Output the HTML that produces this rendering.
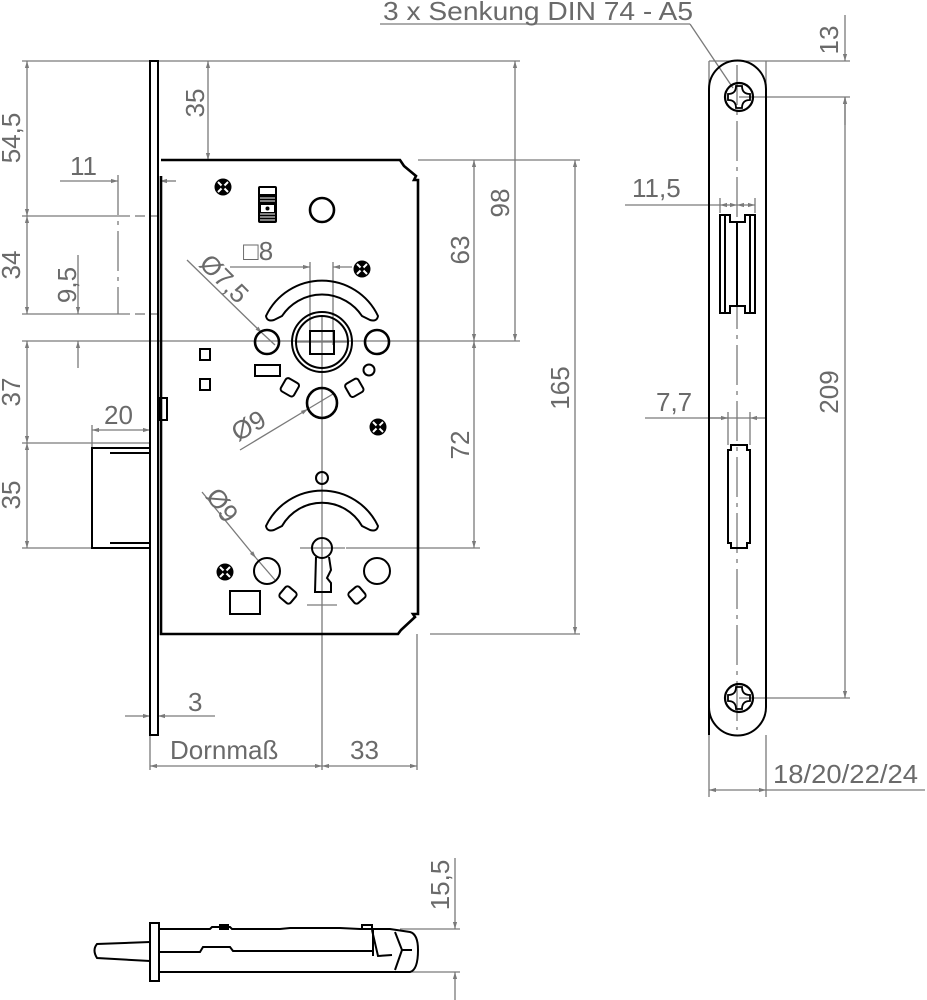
<!DOCTYPE html>
<html><head><meta charset="utf-8"><style>
html,body{margin:0;padding:0;background:#fff}
svg{display:block}
text{font-family:"Liberation Sans",sans-serif;fill:#6a6a6a;font-size:26px}
.d{stroke:#7a7a7a;stroke-width:1.3;fill:none}
.k{stroke:#000;stroke-width:2.6;fill:none}
.t{stroke:#000;stroke-width:2;fill:none}
</style></head><body>
<svg width="927" height="1000" viewBox="0 0 927 1000" xmlns="http://www.w3.org/2000/svg">
<defs>
<marker id="a" viewBox="0 0 10 10" refX="10" refY="5" markerWidth="9" markerHeight="7" orient="auto-start-reverse" markerUnits="userSpaceOnUse"><path d="M0,2 L10,5 L0,8 z" fill="#7a7a7a"/></marker>
<g id="scr"><circle r="8.5" fill="#000"/><path d="M-5,-5 L5,5 M5,-5 L-5,5" stroke="#fff" stroke-width="2"/><circle r="2.2" fill="#000"/></g>
<g id="ph"><circle r="14" fill="none" stroke="#000" stroke-width="2.2"/><path d="M-3,-11 Q-3,-3 -11,-3 L-11,3 Q-3,3 -3,11 L3,11 Q3,3 11,3 L11,-3 Q3,-3 3,-11 Z" fill="none" stroke="#000" stroke-width="1.8"/></g>
</defs>

<g class="d">
<line x1="22" y1="61" x2="520" y2="61"/>
<line x1="22" y1="216" x2="130" y2="216"/><line x1="135" y1="216" x2="145" y2="216"/><line x1="150" y1="216" x2="158" y2="216"/>
<line x1="22" y1="314" x2="130" y2="314"/><line x1="135" y1="314" x2="145" y2="314"/><line x1="150" y1="314" x2="158" y2="314"/>
<line x1="22" y1="341" x2="520" y2="341"/>
<line x1="22" y1="443" x2="150" y2="443"/>
<line x1="22" y1="548" x2="92" y2="548"/>
<line x1="27" y1="61" x2="27" y2="216" marker-start="url(#a)" marker-end="url(#a)"/>
<line x1="27" y1="216" x2="27" y2="314" marker-start="url(#a)" marker-end="url(#a)"/>
<line x1="27" y1="341" x2="27" y2="443" marker-start="url(#a)" marker-end="url(#a)"/>
<line x1="27" y1="443" x2="27" y2="548" marker-start="url(#a)" marker-end="url(#a)"/>
<line x1="60" y1="181" x2="118" y2="181" marker-end="url(#a)"/>
<line x1="176" y1="181" x2="160" y2="181" marker-end="url(#a)"/>
<line x1="118" y1="175" x2="118" y2="314" stroke-dasharray="40,6,4,6"/>
<line x1="78" y1="255" x2="78" y2="314" marker-end="url(#a)"/>
<line x1="78" y1="368" x2="78" y2="341" marker-end="url(#a)"/>
<line x1="92" y1="425" x2="92" y2="448"/>
<line x1="92" y1="430" x2="150" y2="430" marker-start="url(#a)" marker-end="url(#a)"/>
<line x1="208" y1="61" x2="208" y2="160" marker-start="url(#a)" marker-end="url(#a)"/>
<line x1="418" y1="160" x2="580" y2="160"/>
<line x1="474" y1="160" x2="474" y2="341" marker-start="url(#a)" marker-end="url(#a)"/>
<line x1="474" y1="341" x2="474" y2="548" marker-start="url(#a)" marker-end="url(#a)"/>
<line x1="515" y1="61" x2="515" y2="341" marker-start="url(#a)" marker-end="url(#a)"/>
<line x1="575" y1="160" x2="575" y2="634" marker-start="url(#a)" marker-end="url(#a)"/>
<line x1="346" y1="548" x2="480" y2="548"/>
<line x1="430" y1="634" x2="580" y2="634"/>
<line x1="230" y1="267" x2="310" y2="267" marker-end="url(#a)"/>
<line x1="352" y1="267" x2="333" y2="267" marker-end="url(#a)"/>
<line x1="310" y1="262" x2="310" y2="345"/><line x1="333" y1="262" x2="333" y2="345"/>
<line x1="187" y1="260" x2="262" y2="333" marker-end="url(#a)"/>
<line x1="262" y1="333" x2="275" y2="345"/>
<line x1="240" y1="450" x2="308" y2="409" marker-end="url(#a)"/>
<line x1="308" y1="409" x2="333" y2="394"/>
<line x1="202" y1="492" x2="256" y2="558" marker-end="url(#a)"/>
<line x1="256" y1="558" x2="275" y2="580"/>
<line x1="322" y1="315" x2="322" y2="770"/>
<line x1="417" y1="634" x2="417" y2="770"/>
<line x1="150" y1="735" x2="150" y2="770"/>
<line x1="125" y1="716" x2="150" y2="716" marker-end="url(#a)"/>
<line x1="215" y1="716" x2="158" y2="716" marker-end="url(#a)"/>
<line x1="150" y1="766" x2="322" y2="766" marker-start="url(#a)" marker-end="url(#a)"/>
<line x1="322" y1="766" x2="417" y2="766" marker-start="url(#a)" marker-end="url(#a)"/>
<line x1="297" y1="342" x2="347" y2="342"/>
<line x1="300" y1="548" x2="345" y2="548"/>
<line x1="307" y1="605" x2="337" y2="605"/>
</g>

<text transform="translate(20,138) rotate(-90)" text-anchor="middle">54,5</text>
<text transform="translate(20,265) rotate(-90)" text-anchor="middle">34</text>
<text transform="translate(20,392) rotate(-90)" text-anchor="middle">37</text>
<text transform="translate(20,495) rotate(-90)" text-anchor="middle">35</text>
<text x="70" y="175">11</text>
<text transform="translate(76,285) rotate(-90)" text-anchor="middle">9,5</text>
<text x="104" y="424">20</text>
<text transform="translate(204,103) rotate(-90)" text-anchor="middle">35</text>
<text transform="translate(469,250) rotate(-90)" text-anchor="middle">63</text>
<text transform="translate(509,203) rotate(-90)" text-anchor="middle">98</text>
<text transform="translate(569,388) rotate(-90)" text-anchor="middle">165</text>
<text transform="translate(469,445) rotate(-90)" text-anchor="middle">72</text>
<text x="243" y="260">□8</text>
<text transform="translate(198,265) rotate(45)">Ø7,5</text>
<text transform="translate(238,442) rotate(-30)">Ø9</text>
<text transform="translate(205,496) rotate(55)">Ø9</text>
<text x="188" y="711">3</text>
<text x="170" y="759">Dornmaß</text>
<text x="350" y="759">33</text>

<rect x="150" y="61" width="8" height="674" class="t"/>
<path class="k" d="M161,176 L161,634 L398,634 L401,630 L415,617 L413,614 L418,614 L418,180 L414,180 L416,176 L404,166 L400,160 L161,160"/>
<rect x="160" y="398" width="7" height="22" class="t"/>
<path class="t" d="M150,448 L92,448 L92,548 L150,548"/>
<line class="t" x1="110" y1="453" x2="150" y2="453"/>
<line class="t" x1="110" y1="543" x2="150" y2="543"/>

<use href="#scr" x="223" y="187"/>
<use href="#scr" x="362" y="269"/>
<use href="#scr" x="378" y="427"/>
<use href="#scr" x="225" y="572"/>
<rect x="258" y="186" width="19" height="37" rx="2" fill="#000"/>
<rect x="260" y="188" width="15" height="6" fill="#fff"/>
<g stroke="#fff" stroke-width="1"><line x1="260" y1="198" x2="275" y2="198"/><line x1="260" y1="201" x2="275" y2="201"/><line x1="260" y1="214" x2="275" y2="214"/><line x1="260" y1="217" x2="275" y2="217"/><line x1="260" y1="220" x2="275" y2="220"/></g>
<rect x="261" y="205" width="13" height="7" fill="#fff"/><circle cx="267.5" cy="208.5" r="2" fill="#000"/>
<circle cx="322" cy="210" r="12" class="k" stroke-width="3"/>

<path class="t" d="M266,316 A62,62 0 0 1 378,316 Q377,322 370,320 L362,316 A48,48 0 0 0 282,316 L274,320 Q267,322 266,316 Z"/>
<circle cx="322" cy="342" r="30" class="t"/>
<circle cx="322" cy="342" r="26" class="t" stroke-width="1.5"/>
<rect x="310" y="331" width="24" height="23" class="t"/>
<circle cx="267" cy="342" r="12" class="k" stroke-width="3"/>
<circle cx="377" cy="342" r="12" class="k" stroke-width="3"/>
<rect x="255" y="365" width="25" height="11" class="t"/>
<circle cx="369" cy="370" r="5.5" class="t"/>
<rect x="282" y="380" width="15" height="15" rx="3" transform="rotate(30 290 388)" class="t"/>
<rect x="347" y="380" width="15" height="15" rx="3" transform="rotate(-30 355 388)" class="t"/>
<circle cx="322" cy="403" r="15" class="k" stroke-width="4"/>
<rect x="200" y="349" width="10" height="11" class="t"/>
<rect x="200" y="379" width="10" height="11" class="t"/>

<circle cx="322" cy="478" r="6" class="t"/>
<path class="t" d="M266,526 A62,62 0 0 1 378,526 Q377,532 370,530 L362,526 A46,46 0 0 0 282,526 L274,530 Q267,532 266,526 Z"/>
<circle cx="322" cy="548" r="10" class="t"/>
<path class="t" d="M316,557 L315,592 L331,592 L331,583 L327,578 L331,570 L329,557"/>
<circle cx="267" cy="571" r="13" class="t"/>
<circle cx="377" cy="571" r="13" class="t"/>
<rect x="230" y="591" width="30" height="23" class="t"/>
<rect x="281" y="588" width="14" height="14" rx="3" transform="rotate(40 288 595)" class="t"/>
<rect x="350" y="588" width="14" height="14" rx="3" transform="rotate(-40 357 595)" class="t"/>

<g class="d">
<line x1="380" y1="24" x2="690" y2="24"/>
<line x1="690" y1="24" x2="733" y2="88"/>
<line x1="709" y1="61" x2="709" y2="95"/><line x1="766" y1="61" x2="766" y2="95"/>
<line x1="709" y1="61" x2="850" y2="61"/>
<line x1="739" y1="97" x2="850" y2="97"/>
<line x1="739" y1="698" x2="850" y2="698"/>
<line x1="845" y1="15" x2="845" y2="61" marker-end="url(#a)"/>
<line x1="845" y1="125" x2="845" y2="97" marker-end="url(#a)"/>
<line x1="845" y1="97" x2="845" y2="698" marker-start="url(#a)" marker-end="url(#a)"/>
<line x1="737" y1="65" x2="737" y2="730" stroke-dasharray="40,6,4,6"/>
<line x1="625" y1="205" x2="720" y2="205"/>
<line x1="720" y1="198" x2="720" y2="213"/><line x1="755" y1="198" x2="755" y2="213"/>
<line x1="720" y1="205" x2="737" y2="205" marker-start="url(#a)" marker-end="url(#a)"/>
<line x1="737" y1="205" x2="755" y2="205" marker-start="url(#a)" marker-end="url(#a)"/>
<line x1="645" y1="418" x2="750" y2="418"/>
<line x1="728" y1="412" x2="728" y2="445"/><line x1="750" y1="412" x2="750" y2="445"/>
<line x1="709" y1="418" x2="728" y2="418" marker-end="url(#a)"/>
<line x1="766" y1="418" x2="750" y2="418" marker-end="url(#a)"/>
<line x1="709" y1="735" x2="709" y2="797"/><line x1="766" y1="735" x2="766" y2="797"/>
<line x1="709" y1="790" x2="766" y2="790" marker-start="url(#a)" marker-end="url(#a)"/>
<line x1="766" y1="790" x2="925" y2="790"/>
</g>
<text x="383" y="20" textLength="310" lengthAdjust="spacingAndGlyphs">3 x Senkung DIN 74 - A5</text>
<text transform="translate(838,40) rotate(-90)" text-anchor="middle">13</text>
<text transform="translate(838,392) rotate(-90)" text-anchor="middle">209</text>
<text x="632" y="197">11,5</text>
<text x="656" y="411">7,7</text>
<text x="773" y="783" textLength="145" lengthAdjust="spacingAndGlyphs">18/20/22/24</text>

<path class="t" d="M709,735 L709,89 A28.5,28.5 0 0 1 766,89 L766,707 A28.5,28.5 0 0 1 709,707 Z"/>
<use href="#ph" x="739" y="97"/>
<use href="#ph" x="739" y="698"/>
<path class="t" d="M720,215 L720,313 L730,313 L730,306 L745,306 L745,313 L755,313 L755,215 L745,215 L745,222 L730,222 L730,215 Z"/>
<line class="t" x1="725" y1="215" x2="725" y2="313" stroke-width="1.4"/>
<line class="t" x1="750" y1="215" x2="750" y2="313" stroke-width="1.4"/>
<line class="t" x1="737" y1="222" x2="737" y2="306" stroke-width="1.4"/>
<path class="t" d="M731,445 L747,445 L747,450 L750,450 L750,543 L747,543 L747,548 L731,548 L731,543 L728,543 L728,450 L731,450 Z"/>

<g class="d">
<line x1="400" y1="929" x2="460" y2="929"/>
<line x1="400" y1="972" x2="460" y2="972"/>
<line x1="455" y1="858" x2="455" y2="929" marker-end="url(#a)"/>
<line x1="455" y1="1000" x2="455" y2="972" marker-end="url(#a)"/>
</g>
<text transform="translate(449,885) rotate(-90)" text-anchor="middle">15,5</text>
<path class="t" d="M150,942 L97,944 Q92,950 97,958 L150,961"/>
<rect x="150" y="923" width="9" height="58" class="t"/>
<path class="t" d="M159,929 L210,929 L212,927 L230,927 L232,929 L280,929 L290,928 L340,928 L360,929 L390,929 L410,932 Q418,934 418,950 Q418,970 410,972 L159,972"/>
<path class="t" d="M159,952 L200,952 L203,947 L230,947 L233,951 L373,951"/>
<path class="t" d="M372,930 L378,956 L392,955 M395,932 L402,950 L395,970 M402,950 L412,950" stroke-width="1.6"/>
<line class="t" x1="373" y1="930" x2="373" y2="956" stroke-width="1.6"/>
<rect x="220" y="925" width="8" height="4" class="t" stroke-width="1.2"/>
<rect x="362" y="925" width="10" height="4" class="t" stroke-width="1.2"/>
</svg>
</body></html>
